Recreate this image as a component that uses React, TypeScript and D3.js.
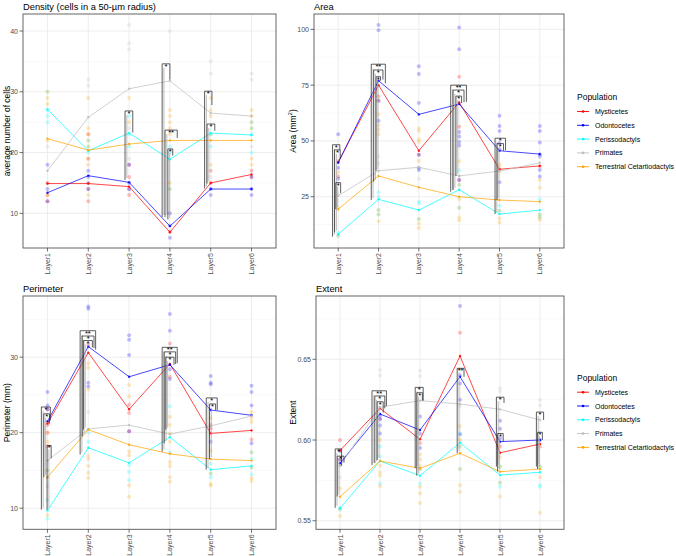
import React from "react";
import * as d3 from "d3";

const layers = ["Layer1", "Layer2", "Layer3", "Layer4", "Layer5", "Layer6"];
const populations = ["Mysticetes", "Odontocetes", "Perissodactyls", "Primates", "Terrestrial Cetartiodactyls"];
const popColors = ["#FF0000", "#0000FF", "#00FFFF", "#BEBEBE", "#FFA500"];

// ---------- Density ----------
const densityMeans = [
  [14.9, 14.9, 14.4, 6.9, 15.0, 16.4],
  [13.4, 16.2, 15.1, 7.9, 14.0, 14.0],
  [27.1, 20.3, 23.2, 18.9, 23.2, 22.9],
  [17.0, 25.8, 30.5, 31.8, 26.5, 26.0],
  [22.3, 20.4, 21.4, 22.0, 22.0, 22.0],
];
// [layer, population, value]
const densityPoints = [
  [0,2,30],[0,4,30],[0,4,29],[0,4,28],[0,2,27],[0,2,26],[0,2,25],[0,4,22],[0,3,21],[0,1,18],[0,0,15],[0,1,14],[0,0,13],[0,4,13],[0,0,12],[0,1,12],
  [1,3,32],[1,3,31],[1,4,29],[1,4,24],[1,0,23],[1,4,23],[1,2,22],[1,4,22],[1,2,21],[1,4,21],[1,2,20],[1,0,19],[1,4,19],[1,4,18],[1,1,17],[1,1,16],[1,1,15],[1,0,14],[1,1,14],[1,4,13],[1,0,12],
  [2,3,41],[2,3,38],[2,3,37],[2,4,29],[2,2,26],[2,4,25],[2,3,24],[2,2,23],[2,2,21],[2,3,19],[2,0,18],[2,1,18],[2,0,16],[2,1,15],[2,0,14],[2,1,14],[2,0,13],
  [3,3,40],[3,4,27],[3,4,26],[3,4,25],[3,4,24],[3,4,23],[3,2,21],[3,2,20],[3,4,15],[3,2,14],[3,4,14],[3,1,10],[3,1,8],[3,0,7],[3,1,6],
  [4,3,35],[4,3,33],[4,4,29],[4,4,27],[4,4,26],[4,4,23],[4,2,23],[4,2,21],[4,4,18],[4,0,17],[4,3,16],[4,0,15],[4,1,14],[4,1,13],
  [5,3,33],[5,3,32],[5,4,27],[5,4,26],[5,2,25],[5,4,25],[5,2,24],[5,4,24],[5,2,23],[5,3,21],[5,2,20],[5,4,19],[5,4,18],[5,0,17],[5,0,16],[5,1,16],[5,1,14],[5,1,13],
];
// [layer, dxLeft, dxRight (in category steps), top, leftBottom, rightBottom, label]
const densityBrackets = [
  [2, -0.1, 0.09, 26.85, 15.5, 23.3, "*"],
  [3, -0.19, 0.0, 34.6, 9.4, 32.0, "*"],
  [3, -0.12, 0.18, 23.7, 9.4, 22.4, "**"],
  [3, -0.05, 0.07, 20.6, 9.0, 19.5, "*"],
  [4, -0.15, 0.03, 30.1, 14.1, 27.8, "*"],
  [4, -0.09, 0.1, 24.7, 14.9, 23.6, "*"],
];
const densityTicks = [10, 20, 30, 40];
const densityMinor = [5, 15, 25, 35];

// ---------- Area ----------
const areaMeans = [
  [40.5, 75.0, 45.6, 67.3, 37.3, 38.8],
  [40.2, 77.0, 61.9, 66.5, 45.6, 44.1],
  [8.2, 23.8, 19.0, 28.1, 17.2, 19.0],
  [25.4, 36.6, 38.2, 34.3, 36.5, 40.2],
  [19.4, 34.3, 29.2, 25.0, 23.5, 22.8],
];
const areaPoints = [
  [0,1,53],[0,0,41],[0,1,38],[0,4,36],[0,0,34],[0,1,33],[0,3,26],[0,4,20],[0,2,9],[0,2,7.5],[0,4,7.5],
  [1,1,102],[1,1,99.6],[1,0,70],[1,0,68],[1,1,68],[1,4,62],[1,1,59],[1,4,57],[1,4,55],[1,4,53],[1,3,43],[1,3,40],[1,2,27],[1,2,25],[1,2,19],[1,4,19],[1,2,17],[1,4,17],[1,4,14],
  [2,1,83.5],[2,1,80],[2,1,67],[2,4,55.6],[2,4,54.5],[2,4,50.7],[2,4,49.5],[2,0,43.8],[2,1,43.8],[2,4,41],[2,1,38],[2,1,37],[2,3,33],[2,2,22.8],[2,2,22],[2,2,15],[2,4,15],[2,4,13],[2,4,11],
  [3,1,100.9],[3,1,91.1],[3,0,78.8],[3,0,56.4],[3,1,54],[3,1,52],[3,1,49.5],[3,1,47.9],[3,4,40.9],[3,2,36.7],[3,3,34.4],[3,0,32.5],[3,1,32.5],[3,2,30.3],[3,4,30.3],[3,4,23.9],[3,2,20],[3,4,20],[3,4,15.8],[3,4,14.4],
  [4,1,61.3],[4,1,56.7],[4,1,54.4],[4,1,49],[4,1,46.3],[4,4,39.5],[4,4,38.3],[4,4,36.5],[4,1,31.5],[4,2,21],[4,2,18.7],[4,4,18.7],[4,4,15.2],[4,4,13.4],
  [5,1,56.7],[5,1,54.5],[5,1,49.3],[5,1,44],[5,1,43],[5,0,38.6],[5,1,37],[5,1,34],[5,4,32.5],[5,4,29],[5,2,23.9],[5,2,17],[5,4,17],[5,2,15.8],[5,4,15.8],[5,4,14.7],
];
const areaBrackets = [
  [0, -0.14, 0.04, 48.3, 7.1, 45.9, "*"],
  [0, -0.09, 0.05, 46.0, 9.0, 42.0, "*"],
  [0, -0.06, 0.06, 31.3, 19.4, 26.6, "*"],
  [1, -0.18, 0.17, 84.4, 23.5, 75.8, "**"],
  [1, -0.12, 0.11, 81.8, 31.7, 77.5, "*"],
  [1, -0.06, 0.05, 78.8, 36.6, 77.0, "*"],
  [3, -0.21, 0.18, 75.0, 27.2, 67.5, "**"],
  [3, -0.15, 0.12, 72.8, 28.0, 67.3, "*"],
  [3, -0.08, 0.06, 70.1, 34.3, 67.0, "*"],
  [4, -0.11, 0.15, 51.2, 17.2, 45.9, "*"],
  [4, -0.06, 0.1, 48.8, 23.5, 45.6, "*"],
];
const areaTicks = [25, 50, 75, 100];
const areaMinor = [12.5, 37.5, 62.5, 87.5];

// ---------- Perimeter ----------
const perimeterMeans = [
  [21.2, 30.6, 23.1, 29.1, 19.9, 20.3],
  [21.5, 31.4, 27.4, 29.0, 23.0, 22.3],
  [9.7, 18.0, 16.0, 19.4, 15.1, 15.6],
  [16.3, 20.5, 21.0, 19.8, 20.9, 22.2],
  [14.1, 20.4, 18.4, 17.2, 16.5, 16.3],
];
const perimeterPoints = [
  [0,1,25.4],[0,1,23.6],[0,0,23.1],[0,1,23.1],[0,4,21.4],[0,0,21.0],[0,0,20.0],[0,4,20.0],[0,4,18.8],[0,0,18.2],[0,2,15],[0,4,15],[0,3,14.1],[0,3,12.9],[0,2,11.1],[0,4,9.1],[0,2,8.6],
  [1,1,36.7],[1,1,36.4],[1,0,31.7],[1,4,29.2],[1,4,28.6],[1,1,26.6],[1,1,26.1],[1,4,25.7],[1,3,22.7],[1,2,20],[1,2,18.8],[1,4,16.9],[1,4,16.5],[1,4,15.6],[1,4,14.7],[1,4,14.0],
  [2,1,32.9],[2,1,32.3],[2,1,30.3],[2,4,26.3],[2,4,24.8],[2,0,23.7],[2,0,22.6],[2,0,20.2],[2,1,20.2],[2,4,17.5],[2,4,17],[2,2,15.7],[2,2,14.8],[2,2,13.7],[2,4,13],[2,4,11.5],
  [3,1,35.7],[3,1,33.5],[3,0,31.8],[3,1,28.4],[3,0,27.4],[3,1,27.1],[3,2,23.5],[3,4,22.1],[3,4,21],[3,4,19.9],[3,4,18.8],[3,2,17.4],[3,4,16.1],[3,4,15.6],[3,4,14.1],[3,4,13.5],
  [4,1,27.5],[4,1,26.6],[4,1,26.4],[4,4,21.9],[4,0,21.0],[4,0,20.6],[4,1,18.8],[4,4,17.6],[4,2,15.9],[4,2,14.6],[4,4,14.6],[4,2,14.1],[4,4,13.2],[4,4,13.0],
  [5,1,26.2],[5,1,25.4],[5,1,23.6],[5,4,22.7],[5,4,21.9],[5,4,21.4],[5,0,19.1],[5,1,18.6],[5,2,17.4],[5,4,17.4],[5,2,16.5],[5,2,15.4],[5,4,15.4],[5,2,14.5],[5,4,14.0],[5,4,13.6],
];
const perimeterBrackets = [
  [0, -0.15, 0.07, 23.4, 9.8, 21.6, "*"],
  [0, -0.09, 0.05, 22.5, 14.1, 21.2, "*"],
  [0, -0.01, 0.09, 18.3, 9.8, 16.6, "*"],
  [1, -0.2, 0.18, 33.5, 17.1, 31.0, "**"],
  [1, -0.15, 0.14, 32.8, 19.5, 31.2, "*"],
  [1, -0.12, 0.1, 32.2, 20.4, 31.3, "*"],
  [3, -0.19, 0.18, 31.3, 17.5, 29.2, "**"],
  [3, -0.14, 0.14, 30.7, 18.6, 29.1, "*"],
  [3, -0.1, 0.1, 30.0, 20.4, 29.0, "*"],
  [4, -0.11, 0.16, 24.6, 15.1, 23.0, "*"],
  [4, -0.03, 0.12, 23.8, 16.5, 23.0, "*"],
];
const perimeterTicks = [10, 20, 30];
const perimeterMinor = [15, 25, 35];

// ---------- Extent ----------
const extentMeans = [
  [0.5935, 0.6196, 0.6004, 0.652, 0.5921, 0.5975],
  [0.5856, 0.6161, 0.6062, 0.6392, 0.599, 0.600],
  [0.5577, 0.587, 0.5779, 0.5983, 0.5783, 0.580],
  [0.584, 0.6203, 0.6244, 0.6223, 0.619, 0.6124],
  [0.5649, 0.587, 0.5825, 0.5918, 0.5804, 0.582],
];
const extentPoints = [
  [0,0,0.600],[0,1,0.593],[0,0,0.588],[0,1,0.588],[0,3,0.584],[0,3,0.577],[0,4,0.570],[0,2,0.558],[0,4,0.557],[0,2,0.557],[0,4,0.553],
  [1,3,0.6434],[1,3,0.640],[1,1,0.615],[1,0,0.613],[1,1,0.613],[1,1,0.609],[1,1,0.604],[1,4,0.600],[1,2,0.596],[1,2,0.590],[1,4,0.584],[1,4,0.580],[1,4,0.578],[1,2,0.573],[1,4,0.5715],
  [2,3,0.643],[2,3,0.6397],[2,1,0.6145],[2,1,0.604],[2,0,0.598],[2,1,0.595],[2,4,0.591],[2,4,0.588],[2,4,0.584],[2,2,0.582],[2,4,0.582],[2,2,0.573],[2,4,0.571],[2,4,0.567],[2,4,0.561],
  [3,1,0.683],[3,0,0.6665],[3,1,0.640],[3,1,0.635],[3,1,0.625],[3,3,0.621],[3,4,0.6085],[3,2,0.604],[3,1,0.6035],[3,4,0.600],[3,2,0.596],[3,4,0.596],[3,2,0.582],[3,4,0.582],[3,4,0.572],[3,4,0.568],
  [4,3,0.632],[4,3,0.630],[4,1,0.612],[4,1,0.607],[4,1,0.601],[4,0,0.596],[4,4,0.5895],[4,2,0.5835],[4,4,0.5835],[4,2,0.5735],[4,4,0.5735],[4,2,0.571],[4,4,0.565],
  [5,3,0.625],[5,3,0.6215],[5,1,0.600],[5,0,0.596],[5,2,0.5835],[5,4,0.5835],[5,4,0.577],[5,2,0.572],[5,2,0.571],[5,4,0.555],
];
const extentBrackets = [
  [0, -0.12, 0.04, 0.5945, 0.558, 0.584, "*"],
  [0, -0.07, 0.1, 0.590, 0.565, 0.586, "*"],
  [1, -0.2, 0.16, 0.6305, 0.5845, 0.621, "**"],
  [1, -0.13, 0.12, 0.6273, 0.5858, 0.6196, "*"],
  [1, -0.07, 0.08, 0.6237, 0.5876, 0.617, "*"],
  [2, -0.12, 0.08, 0.6326, 0.5825, 0.6244, "*"],
  [2, -0.08, 0.06, 0.6293, 0.578, 0.6244, "*"],
  [3, -0.07, 0.1, 0.6444, 0.5918, 0.6392, "**"],
  [4, -0.09, 0.1, 0.6265, 0.5835, 0.623, "*"],
  [4, -0.06, 0.08, 0.604, 0.5805, 0.599, "*"],
  [5, -0.09, 0.09, 0.6173, 0.5835, 0.6124, "*"],
  [5, -0.06, 0.06, 0.6048, 0.582, 0.600, "*"],
];
const extentTicks = [0.55, 0.6, 0.65];
const extentMinor = [0.575, 0.625, 0.675];

const FONT = "'Liberation Sans', Arial, Helvetica, sans-serif";

type Box = { l: number; r: number; t: number; b: number };

function Panel(props: {
  box: Box; title: string; ylab: React.ReactNode; ylabX: number;
  means: number[][]; points: any[]; brackets: any[];
  domain: [number, number]; ticks: number[]; minor: number[]; fmt: (v: number) => string;
}) {
  const { box, title, ylab, ylabX, means, points, brackets, domain, ticks, minor, fmt } = props;
  const x = d3.scalePoint<string>().domain(layers).range([box.l, box.r]).padding(0.6);
  const y = d3.scaleLinear().domain(domain).range([box.b, box.t]);
  const step = x.step();
  const line = d3.line<number>().x((_, i) => x(layers[i]) as number).y((d) => y(d));
  const mid = (box.t + box.b) / 2;
  return (
    <g>
      <text x={box.l} y={box.t - 4.5} fontSize={9.3} fill="#000" fontFamily={FONT}>{title}</text>
      <rect x={box.l} y={box.t} width={box.r - box.l} height={box.b - box.t} fill="#fff" />
      {minor.map((v) => (
        <line key={"mn" + v} x1={box.l} x2={box.r} y1={y(v)} y2={y(v)} stroke="#f2f2f2" strokeWidth={0.5} />
      ))}
      {ticks.map((v) => (
        <line key={"mj" + v} x1={box.l} x2={box.r} y1={y(v)} y2={y(v)} stroke="#ebebeb" strokeWidth={0.9} />
      ))}
      {layers.map((l) => (
        <line key={"vx" + l} x1={x(l)} x2={x(l)} y1={box.t} y2={box.b} stroke="#ebebeb" strokeWidth={0.9} />
      ))}
      {points.map((p, i) => (
        <circle key={"p" + i} cx={x(layers[p[0]])} cy={y(p[2])} r={2} fill={popColors[p[1]]} fillOpacity={0.25} />
      ))}
      {means.map((m, k) => (
        <g key={"m" + k}>
          <path d={line(m) as string} fill="none" stroke={popColors[k]} strokeWidth={0.85} strokeOpacity={0.85} />
          {m.map((v, i) => (
            <circle key={i} cx={x(layers[i])} cy={y(v)} r={1.2} fill={popColors[k]} fillOpacity={0.85} />
          ))}
        </g>
      ))}
      {brackets.map((bk, i) => {
        const cx = x(layers[bk[0]]) as number;
        const xl = cx + bk[1] * step;
        const xr = cx + bk[2] * step;
        const yt = y(bk[3]);
        return (
          <g key={"b" + i}>
            <line x1={xl + 1.8} x2={xl + 1.8} y1={yt + 4} y2={y(bk[4]) - 2} stroke="#aaaaaa" strokeWidth={0.8} />
            <path d={`M${xl},${y(bk[4])}V${yt}H${xr}V${y(bk[5])}`} fill="none" stroke="#1a1a1a" strokeWidth={0.7} />
            <text x={(xl + xr) / 2} y={yt + 5} fontSize={7.5} textAnchor="middle" fill="#000" fontFamily={FONT}>{bk[6]}</text>
          </g>
        );
      })}
      <rect x={box.l} y={box.t} width={box.r - box.l} height={box.b - box.t} fill="none" stroke="#555" strokeWidth={0.9} />
      {ticks.map((v) => (
        <g key={"yt" + v}>
          <line x1={box.l - 3.5} x2={box.l} y1={y(v)} y2={y(v)} stroke="#333" strokeWidth={0.7} />
          <text x={box.l - 5} y={y(v)} dominantBaseline="central" textAnchor="end" fontSize={7} fill="#4d4d4d" fontFamily={FONT}>{fmt(v)}</text>
        </g>
      ))}
      {layers.map((l) => (
        <g key={"xt" + l}>
          <line x1={x(l)} x2={x(l)} y1={box.b} y2={box.b + 3.5} stroke="#333" strokeWidth={0.7} />
          <text transform={`translate(${x(l)},${box.b + 5}) rotate(-90)`} dominantBaseline="central" textAnchor="end" fontSize={7} fill="#4d4d4d" fontFamily={FONT}>{l}</text>
        </g>
      ))}
      <text transform={`translate(${ylabX},${mid}) rotate(-90)`} dominantBaseline="central" textAnchor="middle" fontSize={8.5} fill="#000" fontFamily={FONT}>{ylab}</text>
    </g>
  );
}

function Legend({ x, y }: { x: number; y: number }) {
  return (
    <g fontFamily={FONT}>
      <text x={x} y={y} dominantBaseline="central" fontSize={8.5} fill="#000">Population</text>
      {populations.map((p, i) => {
        const yy = y + 14.5 + i * 13.8;
        return (
          <g key={p}>
            <line x1={x} x2={x + 12} y1={yy} y2={yy} stroke={popColors[i]} strokeWidth={0.9} />
            <circle cx={x + 6} cy={yy} r={1.3} fill={popColors[i]} />
            <text x={x + 18} y={yy} dominantBaseline="central" fontSize={7} fill="#000">{p}</text>
          </g>
        );
      })}
    </g>
  );
}

export default function App() {
  const f0 = (v: number) => d3.format("d")(v);
  const f2 = (v: number) => d3.format(".2f")(v);
  return (
    <svg width={676} height={556} style={{ position: "absolute", left: 0, top: 0, display: "block", background: "#fff" }}>
      <rect x={0} y={0} width={676} height={556} fill="#fff" />
      <Panel box={{ l: 23, r: 276, t: 14, b: 248 }} title="Density (cells in a 50-µm radius)" ylab="average number of cells" ylabX={7}
        means={densityMeans} points={densityPoints} brackets={densityBrackets} domain={[4.3, 42.8]} ticks={densityTicks} minor={densityMinor} fmt={f0} />
      <Panel box={{ l: 314, r: 564, t: 14, b: 248 }} title="Area" ylab={<>Area  (mm<tspan dy={-3} fontSize={6}>2</tspan><tspan dy={3}>)</tspan></>} ylabX={293}
        means={areaMeans} points={areaPoints} brackets={areaBrackets} domain={[2, 106.9]} ticks={areaTicks} minor={areaMinor} fmt={f0} />
      <Panel box={{ l: 23, r: 276, t: 296, b: 529.3 }} title="Perimeter" ylab="Perimeter  (mm)" ylabX={7}
        means={perimeterMeans} points={perimeterPoints} brackets={perimeterBrackets} domain={[7.2, 38.1]} ticks={perimeterTicks} minor={perimeterMinor} fmt={f0} />
      <Panel box={{ l: 316, r: 564, t: 296, b: 529.3 }} title="Extent" ylab="Extent" ylabX={293}
        means={extentMeans} points={extentPoints} brackets={extentBrackets} domain={[0.5447, 0.6892]} ticks={extentTicks} minor={extentMinor} fmt={f2} />
      <Legend x={577} y={97} />
      <Legend x={577} y={377.7} />
    </svg>
  );
}
